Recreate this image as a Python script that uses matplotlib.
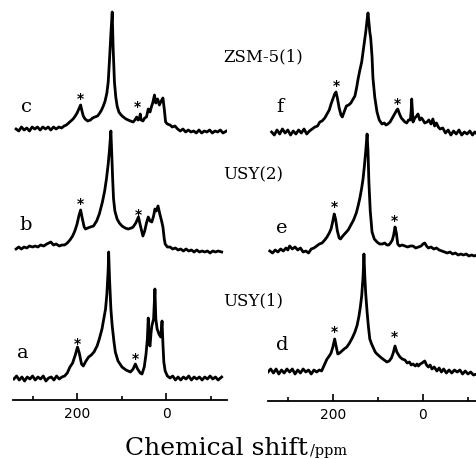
import matplotlib
matplotlib.use("Agg")
import matplotlib.pyplot as plt
from matplotlib.ticker import FixedLocator, NullFormatter

# ---------------- data ----------------
# each trace: (chemical shift / ppm, intensity above its own baseline)
trace_a = [(342, 0), (336, 3), (330, -1), (324, 2), (318, -2), (312, 2), (306, 0), (300, 3), (294, -1),
           (288, 2), (282, 0), (276, 3), (270, -2), (264, 1), (258, 2), (252, -1), (246, 3), (240, 0),
           (234, 2), (228, 3), (222, 6), (216, 12), (210, 16), (204, 24), (199, 32), (195, 26), (190, 15),
           (186, 13), (180, 18), (174, 22), (168, 24), (162, 27), (155, 33), (150, 40), (144, 50), (140, 60),
           (136, 70), (133, 85), (130, 110), (129, 127), (127, 100), (124, 70), (121, 53), (117, 37),
           (114, 27), (108, 18), (99, 12), (90, 9), (80, 7), (74, 10), (69, 15), (64, 10), (58, 6), (54, 5),
           (49, 12), (45, 25), (42, 40), (40, 61), (38, 35), (36, 33), (34, 45), (32, 53), (28, 60),
           (25, 90), (23, 60), (20, 50), (16, 45), (12, 42), (9, 58), (7, 35), (5, 17), (2, 8), (-3, 3),
           (-9, 1), (-15, 3), (-21, -1), (-27, 2), (-33, -1), (-39, 2), (-45, 0), (-51, 3), (-57, -1),
           (-63, 2), (-69, 0), (-75, 2), (-81, -1), (-87, 2), (-93, 0), (-99, 3), (-105, 0), (-111, 2),
           (-117, -1), (-125, 2)]

trace_b = [(337, 0), (331, 2), (325, 0), (319, 2), (313, 1), (307, 3), (300, 2), (294, 3), (288, 2),
           (282, 4), (275, 3), (268, 5), (259, 7), (253, 4), (247, 5), (240, 3), (234, 4), (228, 4),
           (222, 6), (216, 9), (210, 13), (205, 18), (200, 25), (196, 33), (192, 39), (188, 30), (184, 22),
           (181, 20), (176, 21), (170, 22), (163, 23), (156, 28), (150, 35), (143, 47), (138, 58), (134, 70),
           (130, 85), (127, 100), (124, 118), (122, 95), (120, 70), (118, 50), (115, 38), (110, 30),
           (105, 26), (99, 23), (92, 21), (85, 20), (78, 21), (74, 22), (68, 26), (62, 32), (58, 24),
           (52, 13), (48, 18), (44, 26), (40, 32), (36, 28), (32, 27), (28, 33), (25, 40), (22, 38),
           (18, 43), (14, 35), (10, 28), (7, 22), (4, 10), (2, 5), (-3, 2), (-9, 2), (-15, 0), (-21, 1),
           (-27, -1), (-33, 0), (-39, -2), (-45, 0), (-51, -2), (-57, -1), (-63, -3), (-69, -1), (-75, -3),
           (-81, -2), (-87, -3), (-93, -2), (-99, -4), (-105, -2), (-111, -3), (-117, -2), (-125, -3)]

trace_c = [(337, 0), (331, -2), (325, 2), (319, -1), (313, 1), (307, -2), (301, 2), (295, 0), (289, 2),
           (283, -1), (277, 2), (271, 0), (265, 2), (259, -1), (253, 2), (247, 0), (241, 2), (235, 1),
           (229, 3), (224, 4), (219, 6), (214, 8), (209, 10), (204, 13), (200, 16), (196, 20), (192, 24),
           (189, 18), (186, 13), (182, 10), (176, 8), (170, 9), (165, 11), (160, 12), (154, 13), (149, 16),
           (145, 19), (141, 23), (137, 28), (133, 36), (130, 47), (127, 70), (124, 95), (121, 117),
           (119, 82), (116, 47), (113, 32), (110, 23), (106, 17), (101, 14), (96, 12), (90, 10), (85, 9),
           (80, 8), (74, 7), (70, 9), (66, 12), (63, 9), (60, 10), (58, 15), (56, 9), (52, 8), (48, 11),
           (44, 12), (40, 20), (36, 17), (33, 22), (30, 26), (26, 34), (23, 26), (19, 30), (15, 24),
           (11, 28), (7, 31), (4, 20), (1, 7), (-3, 5), (-9, 4), (-14, 2), (-20, 3), (-26, 0), (-32, -2),
           (-38, 0), (-44, -3), (-50, -1), (-56, -3), (-62, -2), (-68, -4), (-74, -1), (-80, -4), (-86, -2),
           (-92, -3), (-98, -1), (-104, -4), (-110, -2), (-116, -3), (-122, -1), (-128, -4), (-136, -2)]

trace_d = [(344, 0), (338, 3), (332, -1), (326, 3), (320, -2), (314, 2), (308, -1), (302, 3), (296, 0),
           (290, 3), (284, -2), (278, 2), (272, -1), (266, 3), (260, 0), (254, 2), (248, -2), (242, 2),
           (236, 0), (230, 2), (225, 1), (220, 6), (216, 10), (213, 13), (208, 16), (204, 19), (200, 25),
           (196, 33), (192, 24), (189, 18), (185, 19), (180, 21), (175, 23), (169, 25), (163, 29), (157, 34),
           (151, 40), (146, 47), (142, 56), (139, 65), (136, 76), (133, 95), (131, 118), (129, 95),
           (127, 78), (124, 60), (121, 45), (118, 33), (114, 28), (110, 24), (106, 20), (102, 18), (97, 16),
           (92, 14), (86, 12), (80, 10), (75, 11), (70, 14), (66, 19), (62, 26), (58, 20), (54, 17),
           (51, 15), (46, 13), (40, 12), (35, 9), (30, 10), (26, 7), (22, 8), (17, 6), (13, 8), (10, 6),
           (6, 8), (2, 9), (-4, 11), (-8, 7), (-12, 5), (-16, 7), (-20, 3), (-25, 5), (-31, 1), (-36, 4),
           (-41, 0), (-46, 3), (-52, -1), (-58, 2), (-64, -1), (-70, 2), (-76, 0), (-82, 2), (-88, -2),
           (-94, 1), (-100, -2), (-106, 0), (-112, -3), (-120, -2)]

trace_e = [(340, 0), (334, -2), (328, 1), (322, -1), (316, 2), (310, 0), (304, 3), (300, 1), (296, 5),
           (290, 2), (284, 4), (278, 1), (272, 3), (266, -1), (260, 0), (254, -2), (248, 2), (242, 3),
           (236, 5), (230, 7), (224, 8), (218, 11), (213, 14), (208, 18), (204, 22), (200, 30), (197, 37),
           (194, 32), (190, 20), (186, 13), (183, 12), (178, 15), (172, 18), (166, 21), (160, 26), (154, 31),
           (148, 38), (144, 45), (140, 53), (136, 63), (133, 72), (130, 85), (127, 100), (124, 117),
           (122, 100), (120, 69), (117, 40), (113, 19), (108, 12), (102, 9), (96, 7), (90, 7), (85, 8),
           (80, 6), (76, 6), (72, 8), (68, 11), (65, 16), (62, 24), (59, 18), (56, 7), (52, 5), (46, 6),
           (40, 5), (34, 4), (28, 5), (22, 5), (16, 3), (10, 4), (4, 5), (0, 7), (-4, 8), (-8, 5), (-12, 3),
           (-18, 4), (-24, 2), (-30, 3), (-36, 1), (-42, 0), (-48, -1), (-54, -2), (-60, -1), (-66, -3),
           (-72, -2), (-78, -4), (-84, -3), (-90, -4), (-96, -3), (-102, -5), (-108, -4), (-114, -5),
           (-120, -4)]

trace_f = [(336, 0), (330, -3), (324, 2), (318, -2), (312, 3), (306, -1), (300, 2), (294, -3), (288, 1),
           (282, -2), (276, 2), (270, -1), (264, 3), (258, -2), (252, 1), (246, 3), (240, 5), (234, 6),
           (229, 10), (224, 11), (218, 14), (213, 18), (208, 22), (204, 28), (200, 33), (196, 38), (193, 40),
           (190, 34), (186, 24), (182, 17), (179, 15), (175, 20), (170, 26), (165, 27), (160, 29), (155, 33),
           (151, 36), (147, 45), (144, 53), (140, 62), (136, 70), (133, 80), (130, 90), (127, 100),
           (124, 112), (122, 119), (120, 110), (118, 100), (116, 94), (113, 75), (111, 54), (107, 35),
           (102, 20), (97, 12), (91, 8), (86, 9), (82, 7), (78, 8), (73, 10), (68, 14), (63, 18), (58, 22),
           (56, 23), (52, 18), (48, 14), (44, 12), (40, 10), (36, 9), (32, 12), (28, 12), (26, 22), (25, 33),
           (23, 18), (22, 10), (18, 14), (14, 16), (11, 18), (7, 12), (3, 14), (0, 12), (-4, 9), (-9, 10),
           (-13, 12), (-18, 8), (-22, 13), (-26, 6), (-30, 9), (-34, 5), (-38, 3), (-44, 4), (-50, -1),
           (-56, 2), (-62, -3), (-68, 1), (-74, -2), (-80, 2), (-86, -3), (-92, 0), (-98, -2), (-104, 1),
           (-110, -3), (-115, 0), (-120, -2)]

trace_letters = {"a": (23, 358), "b": (26, 230), "c": (27, 112),
                 "d": (282, 350), "e": (282, 233), "f": (280, 112)}
sample_names = ["USY(1)", "USY(2)", "ZSM-5(1)"]
major_ticks = [200, 0]
minor_ticks = [300, 100, -100]
xlabel_main = "Chemical shift"
xlabel_unit = "/ppm"

# ---------------- layout ----------------
W, H = 477, 460
fig = plt.figure(figsize=(W / 100, H / 100), dpi=100)


def px(x, y):
    return x / W, 1 - y / H


axL = fig.add_axes([13 / W, 1 - 401 / H, 214 / W, 401 / H])
axR = fig.add_axes([268 / W, 1 - 402 / H, 209 / W, 402 / H])
axL.set_xlim(344, -137)
axR.set_xlim(344, -120)
axL.set_ylim(0, 401)
axR.set_ylim(0, 402)

offsets_left = [21, 151, 271]
offsets_right = [29, 150, 269]

for ax, series, offs in [
    (axL, [trace_a, trace_b, trace_c], offsets_left),
    (axR, [trace_d, trace_e, trace_f], offsets_right),
]:
    for tr, o in zip(series, offs):
        x = [p[0] for p in tr]
        y = [p[1] + o for p in tr]
        ax.plot(x, y, color="black", lw=2.0, solid_joinstyle="round")
    for s in ["left", "right", "top"]:
        ax.spines[s].set_visible(False)
    ax.spines["bottom"].set_linewidth(1.3)
    ax.set_yticks([])
    ax.xaxis.set_major_locator(FixedLocator(major_ticks))
    ax.xaxis.set_minor_locator(FixedLocator(minor_ticks))
    ax.xaxis.set_minor_formatter(NullFormatter())
    ax.tick_params(axis="x", which="major", direction="in", length=5, width=1.2,
                   labelsize=10, pad=4)
    ax.tick_params(axis="x", which="minor", direction="in", length=3, width=1.2)
    ax.patch.set_visible(False)

# asterisks marking spinning sidebands (ppm, y in axes data)
ast_left = [(193, 306), (65, 298), (193, 201), (63, 190), (200, 61), (70, 46)]
ast_right = [(193, 320), (56, 302), (196, 199), (64, 185), (196, 74), (64, 69)]
for ax, pts in [(axL, ast_left), (axR, ast_right)]:
    for x, y in pts:
        ax.text(x, y - 4, "*", ha="center", va="center", fontsize=10,
                family="DejaVu Sans", fontweight="bold")

# trace letters
for k, (x, y) in trace_letters.items():
    fig.text(*px(x, y), k, ha="center", va="baseline", fontsize=14, family="DejaVu Serif")

# sample names
name_y = {"ZSM-5(1)": 61, "USY(2)": 179, "USY(1)": 305}
for n in sample_names:
    fig.text(*px(223, name_y[n]), n, ha="left", va="baseline", fontsize=12, family="DejaVu Serif")

# x label
t1 = fig.text(*px(125, 455), xlabel_main, ha="left", va="baseline", fontsize=18, family="DejaVu Serif")
fig.canvas.draw()
bb = t1.get_window_extent()
fig.text(bb.x1 / W + 2 / W, 1 - 455 / H, xlabel_unit, ha="left", va="baseline",
         fontsize=10.5, family="DejaVu Serif")

fig.savefig("out.png", dpi=100)
